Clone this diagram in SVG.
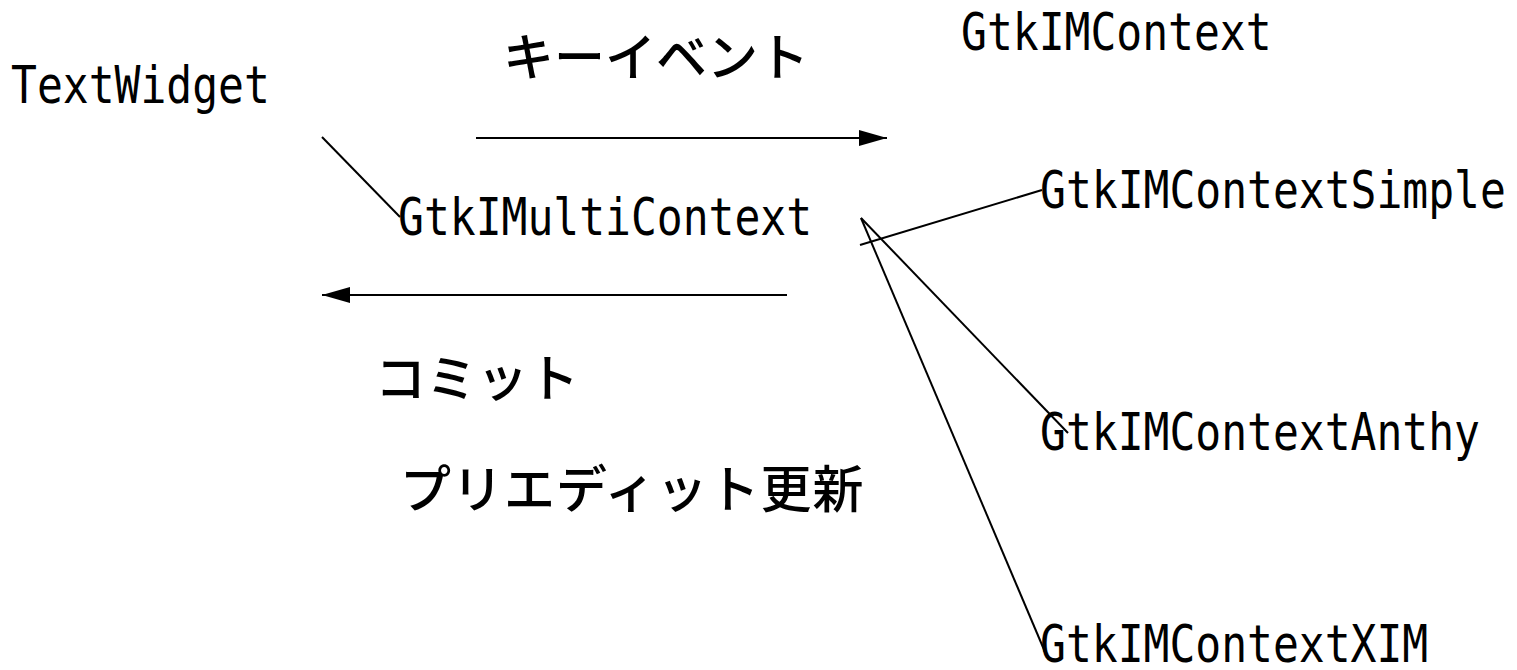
<svg xmlns="http://www.w3.org/2000/svg" width="1517" height="670" viewBox="0 0 1517 670">
<style>
.lat{font-family:"DejaVu Sans Mono","Liberation Mono",monospace;font-size:43px;fill:#000}
.jp{font-family:"Noto Sans CJK JP",sans-serif;font-size:51px;font-weight:500;fill:#000}
.ln{stroke:#000;stroke-width:2;fill:none}
</style>
<defs>
<marker id="ah" markerUnits="userSpaceOnUse" markerWidth="30" markerHeight="18" refX="28" refY="8" orient="auto">
<path d="M0,0 L28,8 L0,16 Z" fill="#000"/>
</marker>
</defs>
<rect width="1517" height="670" fill="#fff"/>
<g id="connectors">
<line class="ln" x1="476" y1="138" x2="887" y2="138" marker-end="url(#ah)"/>
<line class="ln" x1="787" y1="295" x2="322" y2="295" marker-end="url(#ah)"/>
<line class="ln" x1="322" y1="137" x2="400" y2="217"/>
<line class="ln" x1="860" y1="245" x2="1042" y2="190"/>
<line class="ln" x1="861" y1="218" x2="1068" y2="433"/>
<line class="ln" x1="861" y1="218" x2="1045" y2="652"/>
</g>
<g id="TextWidget" transform="translate(11,103) scale(1,1.21)"><text class="lat" x="0" y="0">TextWidget</text></g>
<g id="GtkIMContext" transform="translate(961,50) scale(1,1.21)"><text class="lat" x="0" y="0">GtkIMContext</text></g>
<g id="GtkIMultiContext" transform="translate(398,235) scale(1,1.21)"><text class="lat" x="0" y="0">GtkIMultiContext</text></g>
<g id="GtkIMContextSimple" transform="translate(1040,208) scale(1,1.21)"><text class="lat" x="0" y="0">GtkIMContextSimple</text></g>
<g id="GtkIMContextAnthy" transform="translate(1040,450) scale(1,1.21)"><text class="lat" x="0" y="0">GtkIMContextAnthy</text></g>
<g id="GtkIMContextXIM" transform="translate(1040,662) scale(1,1.21)"><text class="lat" x="0" y="0">GtkIMContextXIM</text></g>
<g id="label-keyevent"><text class="jp" x="503" y="76">キーイベント</text></g>
<g id="label-commit"><text class="jp" x="375" y="397">コミット</text></g>
<g id="label-preedit"><text class="jp" x="400" y="508" letter-spacing="1">プリエディット更新</text></g>
</svg>
